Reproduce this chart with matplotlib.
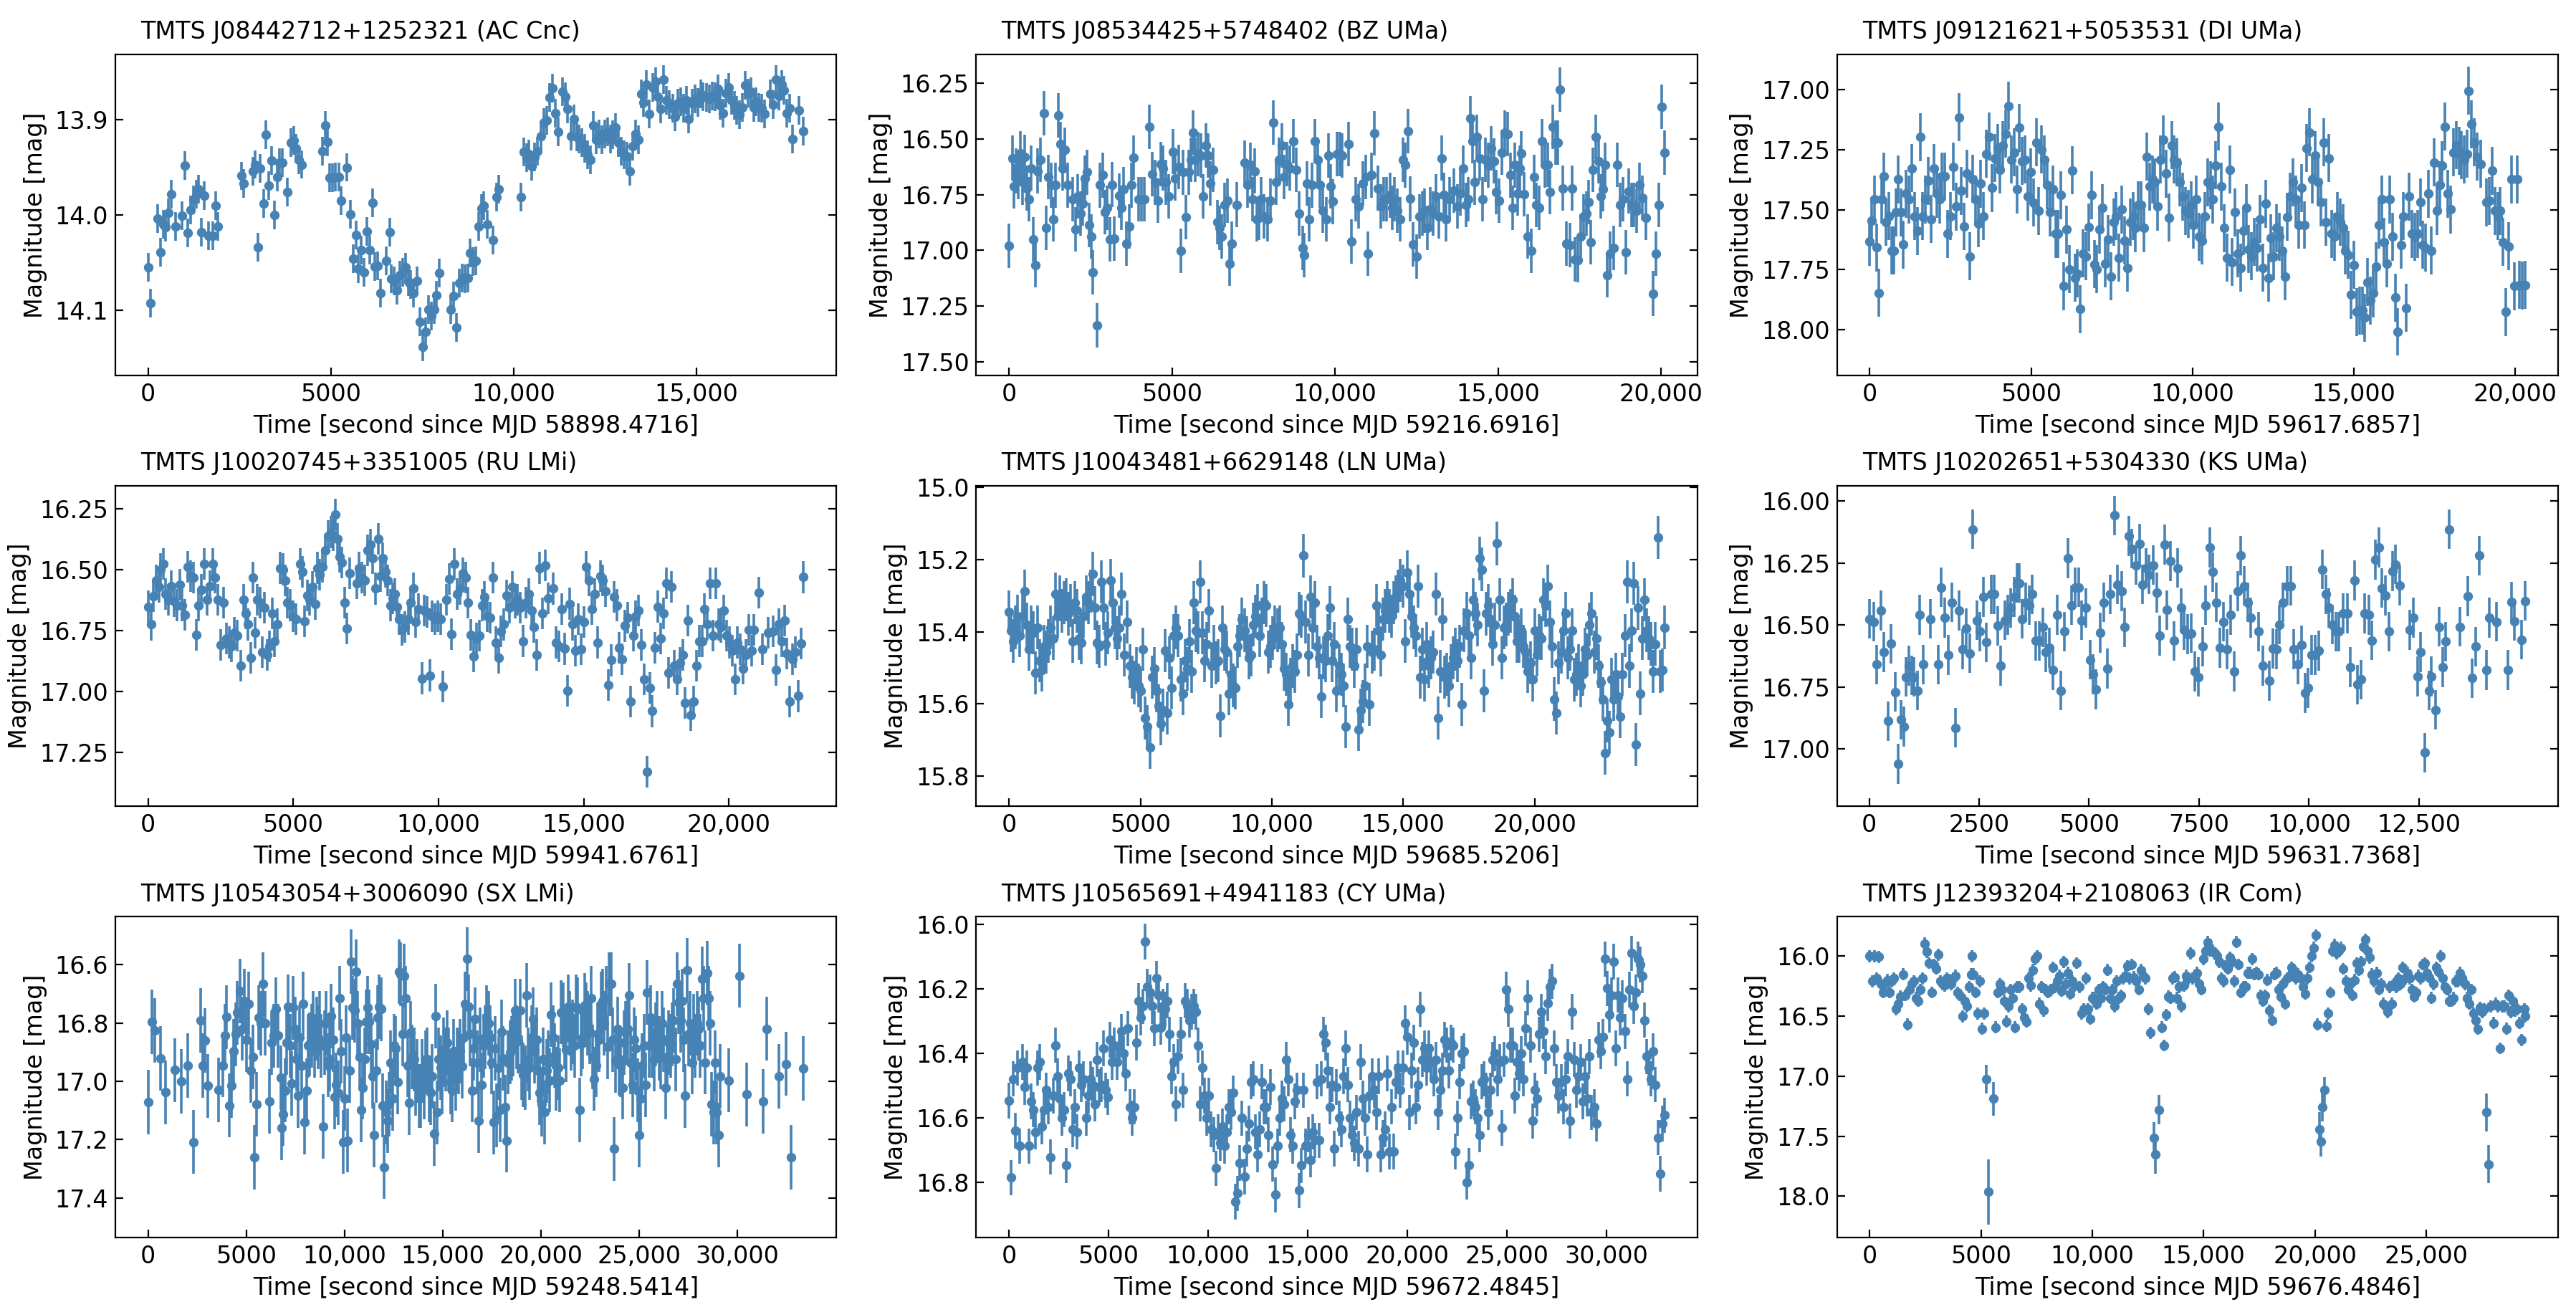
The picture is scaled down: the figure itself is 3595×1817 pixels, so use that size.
import numpy as np
import matplotlib.pyplot as plt
from matplotlib.ticker import FuncFormatter

plt.rcParams.update({'font.size': 12})

# ------------------------------ light curves ------------------------------ #
# (seconds since start MJD, magnitude)

ac_cnc = [
    (0, 14.055), (60, 14.092), (256, 14.004), (330, 14.039), (420, 14.010), (480, 14.013), (560, 13.998),
    (630, 13.978), (750, 14.012), (930, 14.001), (1010, 13.948), (1080, 14.019), (1160, 13.995), (1235, 13.984),
    (1310, 13.978), (1385, 13.973), (1460, 14.018), (1535, 13.980), (1655, 14.022), (1760, 14.022), (1840, 13.990),
    (1910, 14.012), (2545, 13.959), (2605, 13.967), (2860, 13.954), (2920, 13.947), (3000, 14.034), (3070, 13.951),
    (3150, 13.988), (3225, 13.916), (3300, 13.969), (3375, 13.943), (3450, 14.000), (3525, 13.960), (3600, 13.945),
    (3675, 13.945), (3810, 13.976), (3900, 13.924), (3975, 13.922), (4050, 13.930), (4125, 13.942), (4200, 13.947),
    (4760, 13.933), (4835, 13.906), (4910, 13.923), (4970, 13.961), (5045, 13.961), (5120, 13.960), (5210, 13.960),
    (5285, 13.985), (5435, 13.950), (5525, 13.999), (5600, 14.046), (5680, 14.021), (5755, 14.056), (5830, 14.037),
    (5905, 14.060), (5980, 14.017), (6055, 14.037), (6130, 13.987), (6205, 14.054), (6280, 14.053), (6355, 14.082),
    (6505, 14.048), (6600, 14.018), (6655, 14.067), (6730, 14.069), (6810, 14.079), (6885, 14.063), (6960, 14.060),
    (7035, 14.055), (7110, 14.070), (7185, 14.073), (7260, 14.082), (7350, 14.069), (7440, 14.112), (7515, 14.138),
    (7590, 14.122), (7665, 14.099), (7740, 14.106), (7815, 14.099), (7890, 14.084), (7965, 14.061), (8280, 14.099),
    (8355, 14.085), (8435, 14.118), (8510, 14.071), (8585, 14.066), (8660, 14.067), (8735, 14.066), (8810, 14.040),
    (8885, 14.049), (8960, 14.048), (9035, 14.012), (9110, 13.993), (9185, 13.990), (9275, 14.010), (9440, 14.026),
    (9520, 13.981), (9595, 13.973), (10195, 13.981), (10270, 13.934), (10345, 13.940), (10420, 13.936),
    (10495, 13.949), (10570, 13.939), (10645, 13.933), (10750, 13.917), (10825, 13.903), (10900, 13.901),
    (10975, 13.877), (11055, 13.867), (11130, 13.893), (11205, 13.913), (11325, 13.871), (11400, 13.876),
    (11475, 13.889), (11565, 13.917), (11640, 13.899), (11715, 13.918), (11790, 13.920), (11870, 13.924),
    (11945, 13.930), (12020, 13.937), (12095, 13.942), (12170, 13.906), (12260, 13.921), (12335, 13.915),
    (12410, 13.921), (12485, 13.915), (12560, 13.913), (12635, 13.920), (12710, 13.916), (12785, 13.908),
    (12860, 13.924), (12935, 13.933), (13010, 13.937), (13100, 13.938), (13175, 13.954), (13250, 13.928),
    (13325, 13.915), (13400, 13.921), (13480, 13.873), (13555, 13.882), (13630, 13.863), (13705, 13.894),
    (13795, 13.866), (13870, 13.860), (13945, 13.876), (14020, 13.889), (14095, 13.858), (14170, 13.880),
    (14245, 13.884), (14340, 13.888), (14410, 13.897), (14490, 13.883), (14565, 13.881), (14640, 13.888),
    (14715, 13.880), (14790, 13.899), (14880, 13.883), (14955, 13.878), (15030, 13.882), (15105, 13.873),
    (15180, 13.876), (15270, 13.877), (15345, 13.878), (15420, 13.875), (15500, 13.876), (15575, 13.868),
    (15650, 13.885), (15725, 13.893), (15800, 13.872), (15875, 13.866), (15950, 13.880), (16025, 13.885),
    (16100, 13.890), (16175, 13.895), (16250, 13.887), (16325, 13.864), (16400, 13.872), (16480, 13.871),
    (16555, 13.887), (16630, 13.881), (16705, 13.887), (16780, 13.888), (16855, 13.894), (17020, 13.873),
    (17095, 13.884), (17170, 13.858), (17245, 13.875), (17320, 13.863), (17395, 13.869), (17470, 13.893),
    (17545, 13.888), (17620, 13.920), (17800, 13.890), (17925, 13.912),
]

bz_uma = [
    (0, 16.979), (100, 16.586), (150, 16.714), (220, 16.644), (290, 16.670), (355, 16.565), (420, 16.695),
    (475, 16.580), (540, 16.721), (610, 16.772), (675, 16.631), (745, 16.951), (810, 17.066), (880, 16.644),
    (965, 16.593), (1065, 16.384), (1130, 16.900), (1215, 16.670), (1285, 16.708), (1350, 16.861), (1420, 16.708),
    (1505, 16.395), (1570, 16.522), (1640, 16.631), (1705, 16.548), (1790, 16.708), (1960, 16.772), (2045, 16.906),
    (2110, 16.759), (2195, 16.836), (2265, 16.791), (2330, 16.676), (2400, 16.650), (2465, 16.887), (2515, 16.938),
    (2565, 17.098), (2700, 17.338), (2785, 16.708), (2870, 16.663), (2940, 16.829), (3005, 16.810), (3090, 16.951),
    (3160, 16.705), (3225, 16.948), (3380, 16.756), (3445, 16.810), (3515, 16.727), (3600, 16.970), (3680, 16.893),
    (3750, 16.708), (3815, 16.583), (3970, 16.772), (4055, 16.772), (4155, 16.772), (4305, 16.446), (4390, 16.657),
    (4475, 16.695), (4560, 16.778), (4660, 16.612), (4730, 16.631), (4815, 16.695), (4900, 16.759), (5035, 16.557),
    (5100, 16.676), (5200, 16.625), (5270, 17.002), (5340, 16.650), (5420, 16.851), (5505, 16.650), (5575, 16.593),
    (5640, 16.473), (5710, 16.593), (5795, 16.567), (5880, 16.574), (5960, 16.759), (6045, 16.529), (6115, 16.574),
    (6180, 16.701), (6265, 16.638), (6385, 16.874), (6450, 16.900), (6535, 16.938), (6620, 16.797), (6705, 16.778),
    (6775, 17.060), (6840, 16.970), (6990, 16.795), (7230, 16.606), (7315, 16.708), (7400, 16.618), (7465, 16.772),
    (7535, 16.644), (7600, 16.861), (7670, 16.855), (7735, 16.772), (7820, 16.849), (7940, 16.861), (8020, 16.778),
    (8105, 16.427), (8190, 16.695), (8275, 16.593), (8360, 16.529), (8445, 16.670), (8530, 16.612), (8615, 16.631),
    (8715, 16.510), (8815, 16.638), (8900, 16.836), (9000, 16.989), (9055, 17.021), (9135, 16.701), (9205, 16.861),
    (9290, 16.708), (9375, 16.510), (9460, 16.593), (9540, 16.708), (9625, 16.823), (9730, 16.861), (9795, 16.574),
    (9865, 16.714), (9930, 16.782), (10065, 16.567), (10150, 16.567), (10220, 16.574), (10420, 16.522),
    (10505, 16.961), (10640, 16.772), (10725, 16.804), (10845, 16.701), (10945, 16.670), (11010, 17.015),
    (11115, 16.663), (11215, 16.475), (11315, 16.721), (11400, 16.804), (11485, 16.772), (11585, 16.772),
    (11690, 16.753), (11755, 16.810), (11825, 16.772), (11905, 16.823), (11990, 16.861), (12075, 16.593),
    (12160, 16.618), (12230, 16.465), (12295, 16.769), (12395, 16.974), (12500, 17.028), (12585, 16.849),
    (12670, 16.836), (12750, 16.823), (12835, 16.900), (12920, 16.817), (13005, 16.836), (13090, 16.759),
    (13175, 16.849), (13260, 16.586), (13345, 16.753), (13410, 16.861), (13510, 16.772), (13650, 16.731),
    (13765, 16.804), (13850, 16.746), (13935, 16.631), (14020, 16.797), (14085, 16.772), (14155, 16.407),
    (14220, 16.510), (14290, 16.695), (14355, 16.490), (14440, 16.586), (14525, 16.772), (14610, 16.593),
    (14695, 16.618), (14780, 16.542), (14865, 16.599), (14945, 16.740), (15030, 16.778), (15115, 16.561),
    (15200, 16.471), (15285, 16.478), (15370, 16.663), (15455, 16.810), (15505, 16.618), (15590, 16.746),
    (15675, 16.631), (15710, 16.565), (15790, 16.749), (15910, 16.938), (16010, 17.002), (16095, 16.670),
    (16180, 16.797), (16250, 16.810), (16350, 16.510), (16435, 16.618), (16520, 16.616), (16585, 16.740),
    (16685, 16.446), (16755, 16.516), (16820, 16.516), (16890, 16.279), (16990, 16.721), (17095, 16.970),
    (17195, 16.976), (17280, 16.721), (17365, 17.040), (17450, 17.043), (17535, 16.938), (17615, 16.849),
    (17700, 16.836), (17770, 16.785), (17835, 16.964), (17905, 16.638), (18005, 16.490), (18075, 16.599),
    (18140, 16.759), (18210, 16.727), (18275, 16.618), (18345, 17.111), (18445, 17.015), (18545, 16.989),
    (18665, 16.616), (18750, 16.797), (18830, 16.772), (18915, 17.008), (19000, 16.734), (19085, 16.797),
    (19170, 16.797), (19255, 16.823), (19340, 16.708), (19425, 16.765), (19525, 16.855), (19760, 17.194),
    (19845, 17.015), (19930, 16.797), (20015, 16.356), (20100, 16.561),
]

di_uma = [
    (0, 17.633), (68, 17.546), (137, 17.457), (205, 17.657), (274, 17.847), (360, 17.457), (428, 17.362),
    (496, 17.552), (582, 17.528), (668, 17.671), (736, 17.671), (805, 17.511), (873, 17.374), (976, 17.511),
    (1044, 17.645), (1130, 17.433), (1216, 17.457), (1301, 17.327), (1387, 17.528), (1472, 17.588), (1558, 17.198),
    (1644, 17.528), (1729, 17.457), (1815, 17.380), (1900, 17.540), (1986, 17.327), (2072, 17.433), (2157, 17.457),
    (2243, 17.362), (2328, 17.362), (2414, 17.600), (2500, 17.528), (2585, 17.321), (2671, 17.487), (2756, 17.115),
    (2842, 17.422), (2928, 17.570), (3013, 17.350), (3099, 17.695), (3184, 17.372), (3270, 17.457), (3356, 17.558),
    (3441, 17.392), (3527, 17.528), (3612, 17.267), (3698, 17.196), (3784, 17.410), (3869, 17.285), (3955, 17.243),
    (4040, 17.333), (4126, 17.232), (4212, 17.184), (4297, 17.068), (4383, 17.291), (4468, 17.261), (4554, 17.416),
    (4640, 17.158), (4725, 17.297), (4811, 17.291), (4896, 17.445), (4982, 17.344), (5068, 17.471), (5153, 17.220),
    (5239, 17.505), (5324, 17.249), (5410, 17.291), (5496, 17.398), (5581, 17.511), (5667, 17.416), (5752, 17.600),
    (5838, 17.600), (5924, 17.439), (6009, 17.819), (6095, 17.582), (6180, 17.748), (6266, 17.336), (6352, 17.784),
    (6437, 17.766), (6523, 17.914), (6608, 17.683), (6694, 17.695), (6780, 17.574), (6865, 17.439), (6951, 17.728),
    (7036, 17.748), (7122, 17.582), (7208, 17.493), (7293, 17.724), (7379, 17.623), (7464, 17.778), (7550, 17.552),
    (7636, 17.528), (7721, 17.701), (7807, 17.499), (7892, 17.629), (7978, 17.742), (8064, 17.552), (8149, 17.528),
    (8235, 17.576), (8320, 17.481), (8406, 17.481), (8492, 17.576), (8577, 17.279), (8663, 17.404), (8748, 17.374),
    (8834, 17.386), (8920, 17.487), (9005, 17.291), (9091, 17.208), (9176, 17.350), (9262, 17.534), (9348, 17.232),
    (9433, 17.291), (9519, 17.303), (9604, 17.386), (9690, 17.445), (9776, 17.505), (9861, 17.517), (9947, 17.481),
    (10032, 17.564), (10118, 17.457), (10204, 17.612), (10289, 17.629), (10375, 17.528), (10460, 17.386),
    (10546, 17.398), (10632, 17.457), (10717, 17.315), (10803, 17.154), (10888, 17.404), (10974, 17.576),
    (11060, 17.701), (11145, 17.333), (11231, 17.718), (11316, 17.511), (11402, 17.683), (11488, 17.742),
    (11573, 17.588), (11659, 17.493), (11744, 17.665), (11830, 17.695), (11916, 17.635), (12001, 17.659),
    (12087, 17.540), (12172, 17.742), (12258, 17.475), (12344, 17.784), (12429, 17.618), (12515, 17.695),
    (12600, 17.576), (12686, 17.612), (12772, 17.671), (12857, 17.778), (12943, 17.531), (13028, 17.445),
    (13114, 17.386), (13200, 17.457), (13285, 17.564), (13371, 17.410), (13456, 17.564), (13542, 17.243),
    (13628, 17.178), (13713, 17.374), (13799, 17.273), (13884, 17.386), (13970, 17.469), (14056, 17.220),
    (14141, 17.552), (14227, 17.285), (14312, 17.600), (14398, 17.612), (14484, 17.528), (14569, 17.552),
    (14655, 17.576), (14740, 17.671), (14826, 17.689), (14912, 17.855), (14997, 17.730), (15083, 17.926),
    (15168, 17.920), (15254, 17.920), (15340, 17.950), (15425, 17.802), (15511, 17.879), (15596, 17.849),
    (15682, 17.736), (15768, 17.564), (15853, 17.457), (15939, 17.635), (16024, 17.724), (16110, 17.457),
    (16196, 17.612), (16281, 17.867), (16350, 18.009), (16452, 17.647), (16538, 17.528), (16624, 17.909),
    (16709, 17.445), (16795, 17.600), (16880, 17.612), (16966, 17.600), (17052, 17.469), (17137, 17.647),
    (17223, 17.659), (17308, 17.433), (17394, 17.671), (17480, 17.303), (17565, 17.505), (17651, 17.398),
    (17736, 17.315), (17822, 17.154), (17908, 17.433), (17993, 17.499), (18079, 17.261), (18164, 17.232),
    (18250, 17.255), (18336, 17.273), (18421, 17.291), (18507, 17.267), (18558, 17.004), (18644, 17.143),
    (18729, 17.220), (18815, 17.279), (18935, 17.309), (19106, 17.469), (19192, 17.463), (19277, 17.338),
    (19363, 17.505), (19448, 17.528), (19534, 17.505), (19620, 17.635), (19705, 17.926), (19791, 17.653),
    (19876, 17.374), (19962, 17.819), (20048, 17.374), (20133, 17.814), (20219, 17.816), (20304, 17.814),
]

ru_lmi = [
    (0, 16.653), (95, 16.726), (189, 16.611), (284, 16.545), (379, 16.573), (436, 16.500), (530, 16.477),
    (606, 16.602), (701, 16.624), (795, 16.568), (890, 16.630), (985, 16.647), (1080, 16.562), (1174, 16.647),
    (1269, 16.687), (1364, 16.489), (1458, 16.528), (1553, 16.534), (1648, 16.769), (1742, 16.647), (1837, 16.585),
    (1932, 16.477), (2027, 16.624), (2121, 16.568), (2216, 16.477), (2311, 16.534), (2405, 16.624), (2500, 16.811),
    (2595, 16.636), (2689, 16.783), (2784, 16.800), (2879, 16.817), (2974, 16.760), (3068, 16.771), (3201, 16.896),
    (3277, 16.624), (3371, 16.681), (3447, 16.726), (3542, 16.862), (3618, 16.534), (3693, 16.760), (3769, 16.624),
    (3845, 16.636), (3940, 16.839), (4015, 16.658), (4091, 16.851), (4186, 16.817), (4280, 16.681), (4356, 16.794),
    (4451, 16.726), (4546, 16.494), (4640, 16.500), (4716, 16.545), (4792, 16.636), (4887, 16.647), (4981, 16.692),
    (5095, 16.704), (5227, 16.477), (5303, 16.511), (5379, 16.713), (5474, 16.607), (5568, 16.624), (5663, 16.573),
    (5758, 16.641), (5834, 16.494), (5909, 16.523), (6004, 16.489), (6099, 16.421), (6193, 16.364), (6288, 16.347),
    (6364, 16.359), (6440, 16.274), (6515, 16.376), (6591, 16.449), (6667, 16.472), (6762, 16.636), (6837, 16.743),
    (6932, 16.517), (7197, 16.557), (7273, 16.494), (7368, 16.534), (7462, 16.545), (7557, 16.421), (7652, 16.398),
    (7728, 16.455), (7822, 16.579), (7917, 16.376), (7993, 16.528), (8087, 16.455), (8182, 16.511), (8258, 16.545),
    (8353, 16.647), (8428, 16.619), (8504, 16.602), (8580, 16.653), (8656, 16.704), (8750, 16.749), (8845, 16.737),
    (8959, 16.704), (9034, 16.636), (9129, 16.579), (9205, 16.715), (9318, 16.664), (9432, 16.947), (9508, 16.670),
    (9603, 16.675), (9697, 16.935), (9773, 16.692), (9887, 16.704), (9981, 16.692), (10076, 16.704),
    (10152, 16.981), (10265, 16.624), (10360, 16.540), (10455, 16.766), (10550, 16.477), (10644, 16.602),
    (10739, 16.579), (10834, 16.517), (10928, 16.534), (11023, 16.636), (11118, 16.769), (11212, 16.856),
    (11307, 16.783), (11402, 16.771), (11497, 16.647), (11591, 16.613), (11686, 16.692), (11781, 16.698),
    (11875, 16.534), (11970, 16.800), (12065, 16.862), (12159, 16.754), (12254, 16.726), (12349, 16.607),
    (12444, 16.658), (12538, 16.573), (12633, 16.636), (12728, 16.624), (12822, 16.658), (12917, 16.794),
    (13012, 16.636), (13106, 16.602), (13201, 16.670), (13296, 16.737), (13391, 16.851), (13485, 16.494),
    (13580, 16.681), (13675, 16.483), (13769, 16.619), (13959, 16.579), (14053, 16.800), (14148, 16.817),
    (14243, 16.664), (14338, 16.826), (14432, 16.998), (14527, 16.641), (14622, 16.726), (14716, 16.834),
    (14811, 16.704), (14906, 16.828), (15000, 16.715), (15095, 16.489), (15190, 16.545), (15285, 16.664),
    (15379, 16.602), (15474, 16.800), (15569, 16.528), (15663, 16.545), (15758, 16.590), (15853, 16.975),
    (15947, 16.873), (16042, 16.613), (16137, 16.647), (16232, 16.822), (16326, 16.868), (16421, 16.732),
    (16516, 16.698), (16610, 17.043), (16705, 16.771), (16800, 16.692), (16894, 16.670), (16989, 16.811),
    (17084, 16.952), (17179, 17.331), (17273, 16.986), (17368, 17.082), (17463, 16.822), (17557, 16.653),
    (17652, 16.783), (17747, 16.681), (17841, 16.557), (17936, 16.924), (18031, 16.573), (18126, 16.896),
    (18220, 16.952), (18315, 16.884), (18410, 16.851), (18504, 17.048), (18599, 16.709), (18694, 17.099),
    (18788, 17.043), (18883, 16.896), (18978, 16.794), (19073, 16.794), (19167, 16.664), (19262, 16.726),
    (19357, 16.557), (19451, 16.771), (19546, 16.557), (19641, 16.726), (19735, 16.737), (19830, 16.670),
    (19925, 16.771), (20020, 16.800), (20114, 16.834), (20209, 16.952), (20304, 16.800), (20398, 16.828),
    (20493, 16.907), (20588, 16.851), (20682, 16.749), (20777, 16.834), (20872, 16.749), (21023, 16.596),
    (21156, 16.828), (21345, 16.760), (21535, 16.754), (21630, 16.913), (21724, 16.726), (21819, 16.794),
    (21914, 16.709), (22008, 16.845), (22103, 17.043), (22198, 16.868), (22292, 16.839), (22387, 17.020),
    (22482, 16.805), (22576, 16.532),
]

ln_uma = [
    (0, 15.346), (84, 15.396), (167, 15.426), (251, 15.388), (335, 15.357), (418, 15.411), (523, 15.357),
    (586, 15.288), (669, 15.380), (753, 15.449), (837, 15.388), (920, 15.403), (1004, 15.514), (1088, 15.388),
    (1172, 15.480), (1255, 15.506), (1339, 15.441), (1423, 15.457), (1506, 15.426), (1590, 15.388), (1674, 15.418),
    (1778, 15.296), (1841, 15.357), (1925, 15.304), (2008, 15.342), (2092, 15.319), (2176, 15.311), (2259, 15.350),
    (2343, 15.327), (2427, 15.426), (2510, 15.319), (2594, 15.342), (2678, 15.418), (2761, 15.430), (2845, 15.357),
    (2929, 15.304), (3012, 15.319), (3096, 15.288), (3180, 15.239), (3264, 15.334), (3347, 15.430), (3431, 15.441),
    (3515, 15.262), (3598, 15.334), (3682, 15.434), (3766, 15.403), (3870, 15.258), (3954, 15.319), (4038, 15.388),
    (4121, 15.418), (4205, 15.388), (4289, 15.296), (4393, 15.464), (4498, 15.373), (4602, 15.495), (4686, 15.526),
    (4770, 15.541), (4853, 15.503), (4937, 15.549), (5021, 15.564), (5104, 15.449), (5188, 15.640), (5272, 15.663),
    (5356, 15.721), (5439, 15.526), (5523, 15.503), (5607, 15.564), (5690, 15.606), (5774, 15.656), (5858, 15.617),
    (5941, 15.453), (6025, 15.625), (6109, 15.472), (6192, 15.556), (6276, 15.411), (6360, 15.388), (6443, 15.411),
    (6527, 15.533), (6611, 15.571), (6694, 15.480), (6778, 15.503), (6862, 15.426), (6945, 15.510), (7029, 15.319),
    (7113, 15.396), (7196, 15.403), (7280, 15.262), (7364, 15.403), (7448, 15.480), (7531, 15.434), (7615, 15.342),
    (7699, 15.495), (7782, 15.441), (7866, 15.487), (7950, 15.480), (8033, 15.633), (8117, 15.388), (8201, 15.449),
    (8284, 15.457), (8368, 15.571), (8452, 15.518), (8535, 15.549), (8619, 15.556), (8703, 15.441), (8786, 15.411),
    (8870, 15.365), (8954, 15.396), (9037, 15.418), (9121, 15.472), (9205, 15.464), (9288, 15.380), (9372, 15.357),
    (9456, 15.327), (9540, 15.411), (9623, 15.365), (9707, 15.319), (9791, 15.327), (9874, 15.457), (9958, 15.441),
    (10042, 15.418), (10125, 15.388), (10209, 15.396), (10293, 15.388), (10376, 15.434), (10460, 15.503),
    (10544, 15.518), (10627, 15.602), (10711, 15.533), (10795, 15.495), (10878, 15.510), (10962, 15.464),
    (11046, 15.350), (11129, 15.357), (11213, 15.189), (11297, 15.373), (11380, 15.464), (11464, 15.304),
    (11548, 15.388), (11632, 15.319), (11715, 15.441), (11799, 15.472), (11883, 15.579), (11966, 15.472),
    (12050, 15.480), (12134, 15.411), (12217, 15.334), (12301, 15.480), (12385, 15.434), (12468, 15.564),
    (12552, 15.495), (12636, 15.518), (12719, 15.549), (12803, 15.663), (12887, 15.365), (12970, 15.441),
    (13054, 15.449), (13138, 15.495), (13221, 15.449), (13305, 15.671), (13389, 15.617), (13472, 15.594),
    (13556, 15.549), (13640, 15.441), (13724, 15.602), (13807, 15.457), (13891, 15.449), (13975, 15.327),
    (14058, 15.396), (14142, 15.464), (14226, 15.365), (14309, 15.342), (14393, 15.319), (14477, 15.342),
    (14560, 15.357), (14644, 15.319), (14728, 15.304), (14811, 15.288), (14895, 15.258), (14979, 15.273),
    (15062, 15.426), (15146, 15.235), (15230, 15.296), (15313, 15.357), (15397, 15.388), (15481, 15.411),
    (15564, 15.273), (15648, 15.526), (15732, 15.449), (15816, 15.533), (15899, 15.434), (15983, 15.495),
    (16067, 15.472), (16150, 15.457), (16234, 15.296), (16318, 15.640), (16401, 15.510), (16485, 15.365),
    (16569, 15.526), (16652, 15.518), (16736, 15.549), (16820, 15.495), (16903, 15.472), (16987, 15.449),
    (17071, 15.480), (17154, 15.441), (17238, 15.602), (17322, 15.396), (17405, 15.350), (17489, 15.411),
    (17573, 15.472), (17656, 15.311), (17740, 15.350), (17824, 15.380), (17908, 15.197), (17991, 15.227),
    (18075, 15.564), (18159, 15.350), (18242, 15.327), (18326, 15.365), (18410, 15.434), (18493, 15.380),
    (18577, 15.155), (18661, 15.311), (18744, 15.472), (18828, 15.388), (18912, 15.380), (18995, 15.350),
    (19079, 15.342), (19163, 15.311), (19246, 15.357), (19330, 15.426), (19414, 15.426), (19497, 15.396),
    (19581, 15.441), (19665, 15.457), (19748, 15.510), (19832, 15.487), (19916, 15.533), (20000, 15.396),
    (20083, 15.464), (20167, 15.411), (20251, 15.418), (20334, 15.311), (20418, 15.327), (20502, 15.273),
    (20585, 15.373), (20669, 15.441), (20753, 15.587), (20836, 15.625), (20920, 15.487), (21004, 15.457),
    (21087, 15.396), (21171, 15.350), (21255, 15.472), (21338, 15.449), (21422, 15.396), (21506, 15.533),
    (21589, 15.518), (21673, 15.495), (21757, 15.549), (21840, 15.518), (21924, 15.449), (22008, 15.464),
    (22092, 15.380), (22175, 15.350), (22259, 15.457), (22343, 15.418), (22426, 15.495), (22510, 15.541),
    (22594, 15.587), (22677, 15.736), (22761, 15.648), (22845, 15.679), (22928, 15.533), (23012, 15.587),
    (23096, 15.518), (23179, 15.579), (23263, 15.636), (23347, 15.518), (23430, 15.411), (23514, 15.262),
    (23598, 15.495), (23681, 15.396), (23765, 15.265), (23849, 15.713), (23932, 15.334), (24016, 15.571),
    (24100, 15.418), (24184, 15.311), (24267, 15.396), (24351, 15.418), (24435, 15.434), (24518, 15.510),
    (24602, 15.434), (24686, 15.139), (24769, 15.510), (24853, 15.506), (24937, 15.388),
]

ks_uma = [
    (13, 16.475), (100, 16.487), (175, 16.659), (263, 16.442), (338, 16.609), (426, 16.887), (501, 16.575),
    (589, 16.770), (664, 17.059), (726, 16.881), (789, 16.909), (839, 16.709), (902, 16.664), (964, 16.703),
    (1015, 16.709), (1090, 16.764), (1152, 16.459), (1227, 16.659), (1390, 16.475), (1566, 16.659), (1641, 16.348),
    (1716, 16.470), (1804, 16.620), (1879, 16.409), (1954, 16.914), (2042, 16.442), (2117, 16.598), (2204, 16.514),
    (2280, 16.614), (2355, 16.114), (2455, 16.481), (2518, 16.526), (2593, 16.387), (2668, 16.570), (2768, 16.376),
    (2843, 16.376), (2918, 16.503), (2993, 16.664), (3081, 16.481), (3156, 16.459), (3219, 16.431), (3294, 16.387),
    (3369, 16.331), (3419, 16.331), (3482, 16.475), (3557, 16.409), (3632, 16.420), (3707, 16.376), (3783, 16.564),
    (3870, 16.564), (3945, 16.509), (4021, 16.609), (4096, 16.592), (4171, 16.681), (4271, 16.459), (4359, 16.764),
    (4434, 16.526), (4522, 16.231), (4597, 16.420), (4684, 16.348), (4760, 16.348), (4835, 16.481), (4922, 16.431),
    (5023, 16.640), (5085, 16.698), (5148, 16.759), (5248, 16.531), (5336, 16.409), (5411, 16.675), (5486, 16.376),
    (5574, 16.059), (5649, 16.337), (5736, 16.364), (5812, 16.509), (5899, 16.142), (5974, 16.192), (6062, 16.259),
    (6150, 16.173), (6212, 16.337), (6300, 16.270), (6363, 16.296), (6463, 16.259), (6538, 16.370), (6613, 16.542),
    (6713, 16.176), (6776, 16.440), (6851, 16.242), (6939, 16.564), (7014, 16.270), (7089, 16.431), (7164, 16.520),
    (7239, 16.537), (7327, 16.533), (7402, 16.687), (7490, 16.709), (7578, 16.587), (7653, 16.420), (7740, 16.187),
    (7816, 16.287), (7891, 16.409), (7978, 16.592), (8054, 16.487), (8129, 16.598), (8216, 16.459), (8292, 16.687),
    (8379, 16.364), (8454, 16.220), (8530, 16.342), (8605, 16.409), (8680, 16.470), (8855, 16.526), (8955, 16.664),
    (9106, 16.725), (9181, 16.595), (9256, 16.598), (9331, 16.498), (9406, 16.409), (9506, 16.342), (9594, 16.342),
    (9657, 16.598), (9744, 16.659), (9832, 16.581), (9907, 16.773), (9982, 16.753), (10058, 16.620),
    (10133, 16.620), (10220, 16.603), (10308, 16.276), (10383, 16.376), (10458, 16.431), (10533, 16.498),
    (10609, 16.526), (10684, 16.526), (10784, 16.453), (10872, 16.453), (10947, 16.670), (11034, 16.320),
    (11110, 16.740), (11185, 16.720), (11260, 16.453), (11360, 16.459), (11435, 16.562), (11510, 16.237),
    (11586, 16.187), (11661, 16.351), (11736, 16.381), (11824, 16.526), (11899, 16.283), (11974, 16.256),
    (12062, 16.340), (12300, 16.520), (12375, 16.470), (12475, 16.707), (12538, 16.609), (12638, 17.014),
    (12726, 16.764), (12788, 16.707), (12876, 16.842), (12964, 16.507), (13039, 16.670), (13114, 16.567),
    (13189, 16.114), (13439, 16.507), (13615, 16.384), (13702, 16.714), (13790, 16.587), (13865, 16.220),
    (14040, 16.681), (14103, 16.470), (14266, 16.487), (14517, 16.681), (14604, 16.407), (14667, 16.484),
    (14830, 16.559), (14917, 16.403),
]

sx_lmi = [
    (0, 17.072), (197, 16.796), (337, 16.825), (618, 16.921), (899, 17.038), (1348, 16.962), (1685, 17.000),
    (2022, 16.946), (2303, 17.208), (2669, 16.791), (2781, 16.946), (2893, 16.860), (3034, 17.016), (3567, 17.029),
    (3792, 16.945), (3905, 16.844), (3989, 16.780), (4129, 17.083), (4242, 17.016), (4354, 16.897), (4466, 16.839),
    (4551, 16.765), (4663, 16.691), (4775, 16.820), (4888, 16.724), (5000, 16.858), (5112, 16.734), (5225, 16.964),
    (5337, 16.916), (5421, 17.260), (5534, 17.079), (5618, 16.782), (5730, 16.801), (5843, 16.667), (5955, 16.801),
    (6180, 17.069), (6292, 16.868), (6405, 16.844), (6517, 16.753), (6629, 16.844), (6742, 16.988), (6798, 17.160),
    (6882, 17.112), (6966, 17.031), (7051, 16.868), (7135, 16.744), (7219, 16.878), (7303, 17.007), (7388, 16.748),
    (7472, 16.820), (7556, 16.925), (7640, 17.050), (7725, 16.849), (7809, 16.945), (7893, 16.734), (7978, 17.141),
    (8062, 17.031), (8146, 16.878), (8230, 16.873), (8315, 16.844), (8399, 16.801), (8483, 16.878), (8567, 16.820),
    (8652, 16.849), (8736, 16.801), (8820, 16.878), (8905, 17.155), (8989, 16.868), (9073, 16.801), (9157, 16.945),
    (9242, 16.925), (9326, 16.777), (9410, 16.858), (9494, 17.055), (9579, 17.012), (9663, 17.040), (9747, 16.715),
    (9832, 16.897), (9916, 17.208), (10000, 17.059), (10084, 16.849), (10169, 17.203), (10253, 16.964),
    (10337, 16.590), (10421, 16.748), (10506, 16.758), (10590, 16.624), (10674, 16.801), (10758, 16.916),
    (10843, 17.098), (10927, 17.021), (11011, 16.925), (11096, 16.796), (11180, 16.748), (11264, 16.796),
    (11348, 16.873), (11433, 16.983), (11517, 17.184), (11601, 16.964), (11685, 16.782), (11770, 16.744),
    (11854, 16.753), (11938, 17.083), (12023, 17.294), (12107, 17.107), (12191, 17.136), (12275, 17.079),
    (12360, 16.935), (12444, 17.059), (12528, 16.878), (12612, 16.887), (12697, 17.002), (12781, 16.624),
    (12865, 16.633), (12950, 16.839), (13034, 16.638), (13118, 16.715), (13202, 16.945), (13287, 17.074),
    (13371, 16.834), (13455, 16.916), (13539, 16.925), (13624, 17.007), (13708, 16.964), (13792, 17.050),
    (13876, 17.050), (13961, 16.964), (14045, 17.021), (14129, 16.935), (14214, 16.925), (14298, 17.031),
    (14382, 17.040), (14466, 16.983), (14551, 17.179), (14635, 16.777), (14719, 17.107), (14803, 16.925),
    (14888, 16.954), (14972, 17.002), (15056, 16.892), (15140, 16.925), (15225, 16.868), (15309, 16.925),
    (15393, 17.002), (15478, 17.031), (15562, 16.897), (15646, 16.992), (15730, 16.925), (15815, 16.935),
    (15899, 16.897), (15983, 16.949), (16067, 16.849), (16152, 16.734), (16236, 16.581), (16320, 16.744),
    (16405, 16.839), (16489, 17.031), (16573, 16.887), (16657, 16.787), (16742, 16.935), (16826, 17.136),
    (16910, 16.858), (16994, 17.012), (17079, 16.878), (17163, 16.849), (17247, 16.782), (17332, 16.801),
    (17416, 16.849), (17500, 16.935), (17584, 17.141), (17669, 16.887), (17753, 17.117), (17837, 16.954),
    (17921, 17.098), (18006, 16.830), (18090, 16.921), (18174, 17.088), (18259, 17.203), (18343, 16.935),
    (18427, 16.901), (18511, 16.887), (18596, 16.873), (18680, 16.758), (18764, 16.849), (18848, 16.863),
    (18933, 16.758), (19017, 16.954), (19101, 16.978), (19186, 16.988), (19270, 16.705), (19354, 16.925),
    (19438, 16.954), (19523, 16.849), (19607, 16.787), (19691, 16.897), (19775, 16.858), (19860, 16.964),
    (19944, 17.040), (20028, 17.079), (20112, 16.925), (20197, 17.107), (20281, 16.964), (20365, 16.935),
    (20450, 16.997), (20534, 16.772), (20618, 16.849), (20702, 16.911), (20787, 16.992), (20871, 16.954),
    (20955, 16.997), (21039, 16.763), (21124, 16.772), (21208, 16.849), (21292, 16.892), (21376, 16.744),
    (21461, 16.801), (21545, 16.854), (21629, 16.830), (21714, 16.878), (21798, 16.744), (21882, 16.753),
    (21966, 17.098), (22051, 16.873), (22135, 16.849), (22219, 16.739), (22303, 16.772), (22388, 16.801),
    (22472, 16.830), (22556, 16.715), (22641, 16.916), (22725, 16.992), (22809, 16.945), (22893, 16.839),
    (22978, 16.858), (23062, 16.734), (23146, 16.724), (23230, 16.801), (23315, 16.715), (23399, 16.882),
    (23483, 16.667), (23568, 16.667), (23652, 16.858), (23736, 17.232), (23820, 16.930), (23905, 16.820),
    (23989, 16.940), (24073, 16.945), (24157, 17.021), (24242, 16.868), (24326, 16.834), (24410, 16.820),
    (24494, 16.705), (24579, 16.935), (24663, 17.012), (24747, 16.858), (24832, 16.887), (24916, 17.031),
    (25000, 17.184), (25084, 17.059), (25169, 16.945), (25253, 16.878), (25337, 17.012), (25421, 16.696),
    (25506, 16.878), (25590, 16.782), (25674, 16.878), (25759, 16.925), (25843, 16.839), (25927, 16.801),
    (26011, 16.887), (26096, 16.916), (26180, 16.801), (26264, 16.858), (26348, 17.021), (26433, 16.916),
    (26517, 16.868), (26601, 16.878), (26686, 16.839), (26770, 16.791), (26854, 16.925), (26938, 16.667),
    (27023, 16.729), (27107, 16.791), (27191, 16.724), (27275, 16.858), (27360, 17.050), (27444, 16.619),
    (27528, 16.839), (27613, 16.801), (27697, 16.935), (27781, 16.811), (27865, 16.878), (27950, 16.801),
    (28034, 16.820), (28118, 16.878), (28202, 16.648), (28287, 16.715), (28371, 16.935), (28455, 16.629),
    (28540, 16.715), (28624, 16.801), (28708, 17.079), (28792, 17.107), (28877, 16.935), (28961, 17.107),
    (29045, 17.184), (29129, 16.983), (29551, 16.997), (30112, 16.638), (30478, 17.045), (31320, 17.069),
    (31517, 16.820), (32135, 16.983), (32472, 16.940), (32753, 17.260), (33380, 16.956),
]

cy_uma = [
    (0, 16.547), (110, 16.786), (221, 16.479), (331, 16.640), (442, 16.445), (552, 16.688), (663, 16.427),
    (773, 16.505), (884, 16.445), (994, 16.688), (1105, 16.549), (1215, 16.575), (1326, 16.644), (1436, 16.445),
    (1547, 16.427), (1657, 16.627), (1768, 16.575), (1878, 16.514), (1989, 16.566), (2099, 16.722), (2210, 16.531),
    (2320, 16.375), (2431, 16.471), (2541, 16.540), (2652, 16.601), (2762, 16.575), (2872, 16.748), (2983, 16.462),
    (3093, 16.479), (3204, 16.636), (3314, 16.566), (3425, 16.644), (3535, 16.445), (3646, 16.497), (3756, 16.479),
    (3867, 16.601), (3977, 16.531), (4088, 16.479), (4198, 16.497), (4309, 16.557), (4419, 16.419), (4530, 16.505),
    (4640, 16.497), (4751, 16.384), (4861, 16.514), (4972, 16.536), (5082, 16.358), (5193, 16.427), (5303, 16.375),
    (5414, 16.427), (5524, 16.375), (5634, 16.332), (5745, 16.401), (5855, 16.462), (5966, 16.323), (6076, 16.566),
    (6187, 16.601), (6297, 16.566), (6408, 16.367), (6518, 16.237), (6629, 16.289), (6739, 16.254), (6850, 16.053),
    (6960, 16.193), (7071, 16.211), (7181, 16.254), (7292, 16.323), (7402, 16.167), (7513, 16.219), (7623, 16.319),
    (7734, 16.254), (7844, 16.263), (7955, 16.237), (8065, 16.341), (8176, 16.471), (8286, 16.427), (8396, 16.557),
    (8507, 16.410), (8617, 16.341), (8728, 16.514), (8838, 16.237), (8949, 16.254), (9059, 16.297), (9170, 16.271),
    (9280, 16.254), (9391, 16.271), (9501, 16.375), (9612, 16.557), (9722, 16.445), (9833, 16.531), (9943, 16.601),
    (10054, 16.531), (10164, 16.636), (10275, 16.653), (10385, 16.757), (10496, 16.644), (10606, 16.679),
    (10717, 16.627), (10827, 16.688), (10938, 16.644), (11048, 16.566), (11158, 16.583), (11269, 16.523),
    (11379, 16.861), (11490, 16.835), (11600, 16.740), (11711, 16.601), (11821, 16.783), (11932, 16.696),
    (12042, 16.618), (12153, 16.488), (12263, 16.479), (12374, 16.644), (12484, 16.714), (12595, 16.636),
    (12705, 16.488), (12816, 16.566), (12926, 16.566), (13037, 16.653), (13147, 16.505), (13258, 16.744),
    (13368, 16.839), (13479, 16.688), (13589, 16.601), (13700, 16.540), (13810, 16.557), (13920, 16.419),
    (14031, 16.479), (14141, 16.653), (14252, 16.688), (14362, 16.549), (14473, 16.514), (14583, 16.826),
    (14694, 16.748), (14804, 16.514), (14915, 16.688), (15025, 16.653), (15136, 16.731), (15246, 16.644),
    (15357, 16.670), (15467, 16.488), (15578, 16.670), (15688, 16.479), (15799, 16.341), (15909, 16.367),
    (16020, 16.453), (16130, 16.566), (16241, 16.497), (16351, 16.696), (16462, 16.505), (16572, 16.601),
    (16682, 16.636), (16793, 16.471), (16903, 16.384), (17014, 16.497), (17124, 16.601), (17235, 16.653),
    (17345, 16.679), (17456, 16.583), (17566, 16.696), (17677, 16.427), (17787, 16.540), (17898, 16.601),
    (18008, 16.714), (18119, 16.531), (18229, 16.471), (18340, 16.514), (18450, 16.583), (18561, 16.471),
    (18671, 16.714), (18782, 16.662), (18892, 16.636), (19003, 16.462), (19113, 16.705), (19224, 16.566),
    (19334, 16.705), (19444, 16.488), (19555, 16.445), (19665, 16.514), (19776, 16.445), (19886, 16.306),
    (19997, 16.349), (20107, 16.583), (20218, 16.453), (20328, 16.367), (20439, 16.566), (20549, 16.497),
    (20660, 16.263), (20770, 16.419), (20881, 16.384), (20991, 16.445), (21102, 16.384), (21212, 16.427),
    (21323, 16.479), (21433, 16.419), (21544, 16.583), (21654, 16.514), (21765, 16.453), (21875, 16.358),
    (21986, 16.375), (22096, 16.453), (22206, 16.367), (22317, 16.375), (22427, 16.705), (22538, 16.601),
    (22648, 16.488), (22759, 16.401), (22869, 16.393), (22980, 16.800), (23090, 16.748), (23201, 16.549),
    (23311, 16.540), (23422, 16.566), (23532, 16.601), (23643, 16.653), (23753, 16.488), (23864, 16.479),
    (23974, 16.514), (24085, 16.583), (24195, 16.514), (24306, 16.419), (24416, 16.401), (24527, 16.479),
    (24637, 16.427), (24748, 16.631), (24858, 16.419), (24968, 16.202), (25079, 16.263), (25189, 16.375),
    (25300, 16.375), (25410, 16.531), (25521, 16.427), (25631, 16.462), (25742, 16.401), (25852, 16.479),
    (25963, 16.323), (26073, 16.228), (26184, 16.375), (26294, 16.610), (26405, 16.514), (26515, 16.540),
    (26626, 16.341), (26736, 16.271), (26847, 16.332), (26957, 16.410), (27068, 16.245), (27178, 16.193),
    (27289, 16.176), (27399, 16.384), (27510, 16.488), (27620, 16.531), (27730, 16.488), (27841, 16.566),
    (27951, 16.479), (28062, 16.410), (28172, 16.610), (28283, 16.271), (28393, 16.419), (28504, 16.514),
    (28614, 16.471), (28725, 16.427), (28835, 16.549), (28946, 16.471), (29056, 16.540), (29167, 16.410),
    (29277, 16.583), (29388, 16.566), (29498, 16.618), (29609, 16.358), (29719, 16.393), (29830, 16.349),
    (29940, 16.107), (30051, 16.198), (30161, 16.280), (30272, 16.219), (30382, 16.115), (30492, 16.384),
    (30603, 16.219), (30713, 16.289), (30824, 16.228), (30934, 16.332), (31045, 16.479), (31155, 16.202),
    (31266, 16.089), (31376, 16.254), (31487, 16.211), (31597, 16.107), (31708, 16.124), (31818, 16.159),
    (31929, 16.297), (32039, 16.410), (32150, 16.445), (32260, 16.479), (32371, 16.393), (32481, 16.497),
    (32592, 16.662), (32702, 16.774), (32813, 16.618), (32923, 16.592),
]

ir_com = [
    (0, 16.002), (99, 16.211), (198, 16.002), (297, 16.188), (396, 16.007), (495, 16.235), (594, 16.304),
    (693, 16.235), (792, 16.200), (891, 16.304), (990, 16.211), (1089, 16.188), (1188, 16.444), (1287, 16.397),
    (1386, 16.339), (1485, 16.153), (1584, 16.328), (1683, 16.571), (1782, 16.281), (1881, 16.235), (1980, 16.211),
    (2079, 16.351), (2178, 16.374), (2277, 16.281), (2376, 16.188), (2475, 15.898), (2574, 15.967), (2673, 16.060),
    (2772, 16.304), (2871, 16.072), (2970, 16.107), (3069, 15.991), (3168, 16.211), (3267, 16.235), (3366, 16.246),
    (3465, 16.188), (3564, 16.200), (3663, 16.235), (3762, 16.188), (3861, 16.165), (3960, 16.304), (4059, 16.328),
    (4158, 16.502), (4257, 16.374), (4356, 16.420), (4455, 16.258), (4554, 16.153), (4604, 16.002), (4653, 16.153),
    (4752, 16.304), (4851, 16.479), (4950, 16.211), (5049, 16.606), (5148, 16.479), (5643, 16.595), (5742, 16.304),
    (5841, 16.235), (5940, 16.281), (6039, 16.374), (6138, 16.548), (6237, 16.420), (6336, 16.281), (6435, 16.351),
    (6534, 16.595), (6633, 16.258), (6732, 16.258), (6831, 16.444), (6930, 16.513), (7029, 16.548), (7128, 16.188),
    (7227, 16.246), (7326, 16.118), (7425, 16.026), (7524, 16.002), (7623, 16.397), (7722, 16.258), (7821, 16.455),
    (7920, 16.281), (8019, 16.304), (8118, 16.281), (8217, 16.095), (8316, 16.258), (8415, 16.211), (8514, 16.165),
    (8613, 16.293), (8712, 16.049), (8811, 16.235), (8910, 16.142), (9009, 16.316), (9108, 16.211), (9207, 16.246),
    (9306, 16.060), (9405, 16.258), (9504, 16.479), (9603, 16.444), (9702, 16.188), (9801, 16.444), (9900, 16.525),
    (9999, 16.351), (10098, 16.351), (10197, 16.397), (10296, 16.281), (10395, 16.351), (10494, 16.258),
    (10593, 16.281), (10692, 16.118), (10791, 16.351), (10890, 16.281), (10989, 16.420), (11088, 16.211),
    (11187, 16.351), (11286, 16.328), (11385, 16.188), (11484, 16.165), (11583, 16.084), (11682, 16.188),
    (11781, 16.072), (11880, 16.177), (11979, 16.211), (12078, 16.281), (12177, 16.118), (12276, 16.165),
    (12375, 16.188), (12524, 16.444), (12623, 16.641), (13118, 16.595), (13217, 16.746), (13316, 16.490),
    (13415, 16.339), (13514, 16.351), (13613, 16.188), (13712, 16.177), (13811, 16.351), (13910, 16.258),
    (14009, 16.420), (14108, 16.246), (14207, 16.165), (14306, 16.188), (14405, 15.979), (14504, 16.188),
    (14603, 16.165), (14702, 16.142), (14801, 16.235), (14900, 16.281), (14999, 16.026), (15098, 15.956),
    (15197, 15.886), (15296, 15.956), (15395, 15.956), (15494, 15.979), (15593, 16.002), (15692, 16.049),
    (15791, 16.188), (15890, 16.211), (15989, 16.084), (16088, 16.107), (16187, 16.014), (16286, 16.049),
    (16385, 16.211), (16484, 15.886), (16583, 16.072), (16682, 16.304), (16781, 16.258), (16880, 16.258),
    (16979, 16.142), (17078, 16.142), (17177, 16.026), (17276, 16.153), (17375, 16.142), (17474, 16.153),
    (17573, 16.328), (17672, 16.374), (17771, 16.328), (17870, 16.200), (17969, 16.455), (18068, 16.537),
    (18167, 16.153), (18266, 16.142), (18365, 16.281), (18464, 16.339), (18563, 16.235), (18662, 16.397),
    (18761, 16.188), (18860, 16.165), (18959, 16.095), (19058, 16.118), (19157, 16.188), (19256, 16.153),
    (19355, 16.188), (19454, 16.258), (19553, 16.316), (19652, 16.188), (19751, 16.095), (19850, 16.002),
    (19949, 15.933), (20048, 15.828), (20097, 16.571), (20543, 16.583), (20592, 16.479), (20691, 16.304),
    (20790, 15.956), (20889, 15.909), (20988, 15.979), (21087, 15.956), (21186, 15.933), (21285, 16.107),
    (21384, 16.211), (21483, 16.281), (21582, 16.235), (21681, 16.328), (21780, 16.200), (21879, 16.060),
    (21978, 16.118), (22077, 16.049), (22176, 15.921), (22275, 15.863), (22374, 15.956), (22473, 16.014),
    (22572, 16.153), (22671, 16.211), (22770, 16.142), (22869, 16.281), (22968, 16.235), (23067, 16.397),
    (23166, 16.420), (23265, 16.467), (23364, 16.258), (23463, 16.397), (23562, 16.235), (23661, 16.258),
    (23760, 16.188), (23859, 16.235), (23958, 16.095), (24057, 16.188), (24156, 16.142), (24255, 16.188),
    (24354, 16.281), (24453, 16.339), (24552, 16.304), (24651, 16.165), (24750, 16.188), (24849, 16.072),
    (24948, 16.060), (25047, 16.142), (25146, 16.177), (25245, 16.351), (25344, 16.235), (25443, 16.095),
    (25542, 16.130), (25641, 16.002), (25740, 16.188), (25839, 16.258), (25938, 16.281), (26037, 16.374),
    (26136, 16.374), (26235, 16.351), (26334, 16.211), (26433, 16.211), (26532, 16.142), (26631, 16.188),
    (26730, 16.235), (26829, 16.351), (26928, 16.397), (27027, 16.281), (27126, 16.479), (27225, 16.537),
    (27324, 16.606), (27423, 16.432), (27522, 16.467), (27621, 16.444), (27918, 16.420), (28017, 16.560),
    (28116, 16.397), (28215, 16.420), (28314, 16.769), (28413, 16.420), (28512, 16.420), (28611, 16.606),
    (28710, 16.328), (28809, 16.467), (28908, 16.374), (29007, 16.455), (29106, 16.444), (29205, 16.560),
    (29304, 16.699), (29403, 16.444), (29453, 16.502),
]

# eclipse points of IR Com: (time, magnitude, error)
ir_com_eclipse = [
    (5247, 17.024, 0.12), (5321, 17.965, 0.27), (5544, 17.187, 0.14), (12771, 17.512, 0.13),
    (12845, 17.652, 0.16), (12994, 17.280, 0.12), (20196, 17.443, 0.14), (20270, 17.547, 0.12),
    (20345, 17.257, 0.12), (20444, 17.117, 0.11), (27720, 17.303, 0.16), (27819, 17.733, 0.16),
]

curves = [ac_cnc, bz_uma, di_uma, ru_lmi, ln_uma, ks_uma, sx_lmi, cy_uma, ir_com]
titles = [
    'TMTS J08442712+1252321 (AC Cnc)', 'TMTS J08534425+5748402 (BZ UMa)', 'TMTS J09121621+5053531 (DI UMa)',
    'TMTS J10020745+3351005 (RU LMi)', 'TMTS J10043481+6629148 (LN UMa)', 'TMTS J10202651+5304330 (KS UMa)',
    'TMTS J10543054+3006090 (SX LMi)', 'TMTS J10565691+4941183 (CY UMa)', 'TMTS J12393204+2108063 (IR Com)',
]
start_mjd = ['58898.4716', '59216.6916', '59617.6857', '59941.6761', '59685.5206',
             '59631.7368', '59248.5414', '59672.4845', '59676.4846']
mag_err = [0.015, 0.1, 0.1, 0.065, 0.06, 0.08, 0.11, 0.055, 0.05]

ylims = [(14.168, 13.832), (17.562, 16.122), (18.191, 16.854), (17.473, 16.157), (15.885, 14.995),
         (17.231, 15.939), (17.536, 16.436), (16.972, 15.976), (18.344, 15.675)]
yticks = [[13.9, 14.0, 14.1], [16.25, 16.5, 16.75, 17.0, 17.25, 17.5], [17.0, 17.25, 17.5, 17.75, 18.0],
          [16.25, 16.5, 16.75, 17.0, 17.25], [15.0, 15.2, 15.4, 15.6, 15.8], [16.0, 16.25, 16.5, 16.75, 17.0],
          [16.6, 16.8, 17.0, 17.2, 17.4], [16.0, 16.2, 16.4, 16.6, 16.8], [16.0, 16.5, 17.0, 17.5, 18.0]]
xstep = [5000, 5000, 5000, 5000, 5000, 2500, 5000, 5000, 5000]

color = 'steelblue'


def time_fmt(v, pos):
    return f'{int(round(v)):,}' if abs(v) >= 10000 else f'{int(round(v))}'


fig, axes = plt.subplots(3, 3, figsize=(17.975, 9.085))
fig.subplots_adjust(left=0.0448, right=0.993, bottom=0.0495, top=0.958, wspace=0.194, hspace=0.344)

for i, ax in enumerate(axes.flat):
    t, m = np.array(curves[i]).T
    ax.errorbar(t, m, yerr=mag_err[i], fmt='o', color=color, ms=3.8, elinewidth=1.3, capsize=0)
    if i == 8:
        te, me, ee = np.array(ir_com_eclipse).T
        ax.errorbar(te, me, yerr=ee, fmt='o', color=color, ms=3.8, elinewidth=1.3, capsize=0)

    ax.set_ylim(*ylims[i])
    ax.set_yticks(yticks[i])
    # time ticks only within the observed span
    ax.set_xticks(np.arange(0, t.max() + 1, xstep[i]))
    ax.xaxis.set_major_formatter(FuncFormatter(time_fmt))
    ax.tick_params(direction='in', right=True, top=False, length=4)

    ax.text(0.035, 1.049, titles[i], transform=ax.transAxes, ha='left', va='baseline')
    ax.set_xlabel(f'Time [second since MJD {start_mjd[i]}]')
    ax.set_ylabel('Magnitude [mag]')

fig.savefig('out.png', dpi=200)
